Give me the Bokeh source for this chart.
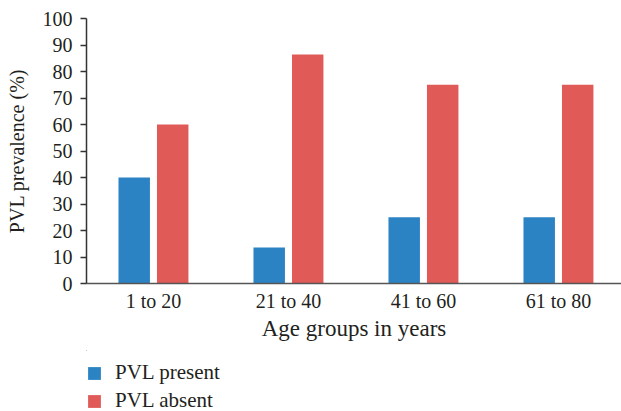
from bokeh.plotting import figure
from bokeh.layouts import column
from bokeh.models import Range1d, FixedTicker, Legend, LegendItem, ColumnDataSource
from bokeh.embed import file_html
from bokeh.resources import INLINE
import numpy as np

groups = ["1 to 20", "21 to 40", "41 to 60", "61 to 80"]
pvl_present = [40, 13.6, 25, 25]
pvl_absent = [60, 86.4, 75, 75]
y_ticks = list(range(0, 101, 10))
series_names = ["PVL present", "PVL absent"]

BLUE = "#2b83c3"
RED = "#e05a57"
FONT = "Liberation Serif"
TXT = "#231f20"

idx = np.arange(len(groups))
src = ColumnDataSource(dict(
    xp=idx - 0.1426, xa=idx + 0.1426, present=pvl_present, absent=pvl_absent))

p = figure(output_backend="svg", toolbar_location=None,
           frame_width=535, frame_height=265,
           min_border_left=86, min_border_right=0, min_border_top=18, min_border_bottom=67,
           x_range=Range1d(-0.496, 3.467), y_range=Range1d(0, 100))
p.outline_line_color = None
p.xgrid.visible = False
p.ygrid.visible = False
p.background_fill_color = "white"
p.border_fill_color = "white"

p.vbar(x="xp", top="present", width=0.233, source=src, fill_color=BLUE, line_color=None)
p.vbar(x="xa", top="absent", width=0.233, source=src, fill_color=RED, line_color=None)

# x axis
xa = p.xaxis[0]
xa.ticker = FixedTicker(ticks=list(idx))
xa.major_label_overrides = {int(i): g for i, g in zip(idx, groups)}
xa.major_tick_out = 0
xa.major_tick_in = 0
xa.minor_tick_out = 0
xa.minor_tick_in = 0
xa.axis_line_color = "#555555"
xa.axis_line_width = 1.5
xa.major_label_text_font = FONT
xa.major_label_text_font_size = "20px"
xa.major_label_text_color = TXT
xa.major_label_standoff = 6
xa.axis_label = "Age groups in years"
xa.axis_label_text_font = FONT
xa.axis_label_text_font_size = "23px"
xa.axis_label_text_font_style = "normal"
xa.axis_label_text_color = TXT
xa.axis_label_standoff = 1

# y axis
ya = p.yaxis[0]
ya.ticker = FixedTicker(ticks=y_ticks)
ya.major_tick_out = 6
ya.major_tick_in = 0
ya.minor_tick_out = 0
ya.minor_tick_in = 0
ya.axis_line_color = "#333333"
ya.axis_line_width = 1.5
ya.major_tick_line_color = "#333333"
ya.major_tick_line_width = 1.5
ya.major_label_text_font = FONT
ya.major_label_text_font_size = "20px"
ya.major_label_text_color = TXT
ya.major_label_standoff = 8
ya.axis_label = "PVL prevalence (%)"
ya.axis_label_text_font = FONT
ya.axis_label_text_font_size = "20px"
ya.axis_label_text_font_style = "normal"
ya.axis_label_text_color = TXT
ya.axis_label_standoff = 12

# legend strip below the chart (its renderers lie far outside its visible ranges)
p2 = figure(output_backend="svg", toolbar_location=None, width=621, height=61,
            min_border=0, x_range=Range1d(100, 101), y_range=Range1d(-1000, -999))
p2.outline_line_color = None
p2.axis.visible = False
p2.grid.visible = False
g1 = p2.vbar(x="xp", top="present", width=0.233, source=src, fill_color=BLUE, line_color=None)
g2 = p2.vbar(x="xa", top="absent", width=0.233, source=src, fill_color=RED, line_color=None)
legend = Legend(items=[LegendItem(label=series_names[0], renderers=[g1]),
                       LegendItem(label=series_names[1], renderers=[g2])],
                location=(0, -2), orientation="vertical",
                padding=0, margin=0, spacing=3,
                glyph_width=16, glyph_height=16, label_standoff=13,
                border_line_color=None, background_fill_alpha=0,
                label_text_font=FONT, label_text_font_size="21px", label_text_color=TXT)
p2.add_layout(legend, "center")

layout = column(p, p2, spacing=0)
open("out.html", "w").write(file_html(layout, INLINE))
